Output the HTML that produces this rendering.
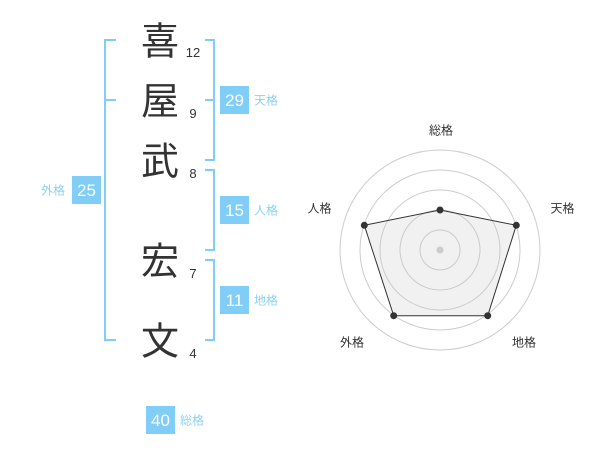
<!DOCTYPE html>
<html>
<head>
<meta charset="utf-8">
<style>
html,body{margin:0;padding:0;background:#fff;}
svg{display:block;}
.k{font-family:"Liberation Sans","Noto Sans CJK JP",sans-serif;font-size:38px;fill:#333;text-anchor:middle;}
.n{font-family:"Liberation Sans",sans-serif;font-size:13px;fill:#333;text-anchor:middle;}
.b{font-family:"Liberation Sans",sans-serif;font-size:17px;fill:#fff;text-anchor:middle;}
.l{font-family:"Liberation Sans","Noto Sans CJK JP",sans-serif;font-size:12px;fill:#8ed0f6;}
.r{font-family:"Liberation Sans","Noto Sans CJK JP",sans-serif;font-size:12px;fill:#333;text-anchor:middle;}
</style>
</head>
<body>
<svg width="600" height="470" viewBox="0 0 600 470" xmlns="http://www.w3.org/2000/svg">
  <!-- brackets -->
  <g fill="none" stroke="#80cdf8" stroke-width="2">
    <polyline points="116,40 105,40 105,340 116,340"/>
    <line x1="105" y1="100" x2="116" y2="100"/>
    <polyline points="205,40 214,40 214,160 205,160"/>
    <line x1="205" y1="100" x2="214" y2="100"/>
    <polyline points="205,170 214,170 214,250 205,250"/>
    <polyline points="205,260 214,260 214,340 205,340"/>
  </g>

  <!-- kanji -->
  <text class="k" x="160" y="54.5">喜</text>
  <text class="k" x="160" y="114.5">屋</text>
  <text class="k" x="160" y="174.5">武</text>
  <text class="k" x="160" y="274.5">宏</text>
  <text class="k" x="160" y="354.5">文</text>

  <!-- stroke counts -->
  <text class="n" x="193" y="57">12</text>
  <text class="n" x="193" y="118">9</text>
  <text class="n" x="193" y="178">8</text>
  <text class="n" x="193" y="278">7</text>
  <text class="n" x="193" y="358">4</text>

  <!-- boxes -->
  <g fill="#80cdf8">
    <rect x="220" y="86" width="29" height="28"/>
    <rect x="220" y="196" width="29" height="28"/>
    <rect x="220" y="286" width="29" height="28"/>
    <rect x="72" y="176" width="29" height="28"/>
    <rect x="146" y="406" width="29" height="28"/>
  </g>
  <text class="b" x="234.5" y="106">29</text>
  <text class="b" x="234.5" y="216">15</text>
  <text class="b" x="234.5" y="306">11</text>
  <text class="b" x="86.5" y="196">25</text>
  <text class="b" x="160.5" y="426">40</text>

  <text class="l" x="254" y="104.5">天格</text>
  <text class="l" x="254" y="214.5">人格</text>
  <text class="l" x="254" y="304.5">地格</text>
  <text class="l" x="41" y="194.5">外格</text>
  <text class="l" x="180" y="424.5">総格</text>

  <!-- radar -->
  <g fill="none" stroke="#cccccc" stroke-width="1">
    <circle cx="440" cy="250" r="20"/>
    <circle cx="440" cy="250" r="40"/>
    <circle cx="440" cy="250" r="60"/>
    <circle cx="440" cy="250" r="80"/>
    <circle cx="440" cy="250" r="100"/>
  </g>
  <polygon points="440,210 516.3,225.3 487.7,315.7 393.7,315.7 364.3,225.3" fill="rgba(200,200,200,0.25)" stroke="#333" stroke-width="1"/>
  <circle cx="440" cy="250" r="3.5" fill="#cccccc"/>
  <g fill="#333">
    <circle cx="440" cy="210" r="3.5"/>
    <circle cx="516.3" cy="225.3" r="3.5"/>
    <circle cx="487.7" cy="315.7" r="3.5"/>
    <circle cx="393.7" cy="315.7" r="3.5"/>
    <circle cx="364.3" cy="225.3" r="3.5"/>
  </g>
  <text class="r" x="441" y="134.5">総格</text>
  <text class="r" x="562.5" y="212.5">天格</text>
  <text class="r" x="319.5" y="212.5">人格</text>
  <text class="r" x="352" y="346.5">外格</text>
  <text class="r" x="524" y="346.5">地格</text>
</svg>
</body>
</html>
